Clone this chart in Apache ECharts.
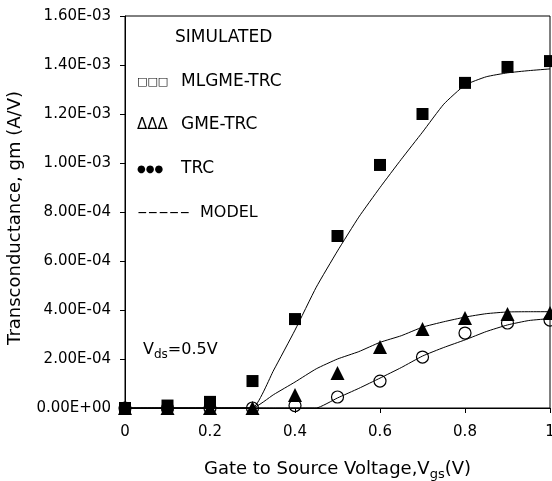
<!DOCTYPE html>
<html>
<head>
<meta charset="utf-8">
<script src="https://cdn.jsdelivr.net/npm/echarts@6/dist/echarts.min.js"></script>
<style>
html,body{margin:0;padding:0;background:#fff;}
#c{width:552px;height:481px;}
</style>
</head>
<body>
<div id="c"></div>
<script>
// Measured points (Vgs in V, gm in A/V)
const vgs = [0, 0.1, 0.2, 0.3, 0.4, 0.5, 0.6, 0.7, 0.8, 0.9, 1.0];
const trc = [0, 1e-5, 2.5e-5, 1.1e-4, 3.63e-4, 7.02e-4, 9.92e-4, 1.2e-3, 1.327e-3, 1.392e-3, 1.416e-3];
const gmeTrc = [0, 0, 0, 0, 5.3e-5, 1.43e-4, 2.49e-4, 3.22e-4, 3.67e-4, 3.84e-4, 3.88e-4];
const mlgmeTrc = [0, 0, 0, 0, 1e-5, 4.5e-5, 1.1e-4, 2.08e-4, 3.06e-4, 3.47e-4, 3.59e-4];

// Model curves
const vgsModel = [0, 0.1, 0.2, 0.3, 0.35, 0.4, 0.45, 0.5, 0.55, 0.6, 0.65, 0.7, 0.75, 0.8, 0.85, 0.9, 0.95, 1.0];
const modelTrc = [0, 0, 0, 0, 1.55e-4, 3.18e-4, 4.93e-4, 6.41e-4, 7.79e-4, 9.0e-4, 1.015e-3, 1.126e-3, 1.24e-3, 1.318e-3, 1.352e-3, 1.368e-3, 1.377e-3, 1.384e-3];
const modelGme = [0, 0, 0, 0, 5.5e-5, 1.06e-4, 1.6e-4, 2.0e-4, 2.3e-4, 2.68e-4, 2.95e-4, 3.3e-4, 3.52e-4, 3.71e-4, 3.85e-4, 3.92e-4, 3.93e-4, 3.93e-4];
const modelMlgme = [0, 0, 0, 0, 0, 0, 0, 4.1e-5, 8e-5, 1.22e-4, 1.65e-4, 2.12e-4, 2.47e-4, 2.78e-4, 3.12e-4, 3.39e-4, 3.57e-4, 3.65e-4];

// Axis ticks
const xTicks = [0, 0.2, 0.4, 0.6, 0.8, 1.0];
const yTicks = [0, 2e-4, 4e-4, 6e-4, 8e-4, 1e-3, 1.2e-3, 1.4e-3, 1.6e-3];

// Texts
const legendTitle = 'SIMULATED';
const legendItems = [
  ['\u25A1\u25A1\u25A1', 'MLGME-TRC'],
  ['\u0394\u0394\u0394', 'GME-TRC'],
  ['\u25CF\u25CF\u25CF', 'TRC'],
  ['-----', 'MODEL']
];
const yTitle = 'Transconductance, gm (A/V)';

const FONT = 'DejaVu Sans';
const pairs = (xs, ys) => xs.map((x, i) => [x, ys[i]]);
function sci(v) {
  const s = Number(v).toExponential(2);
  const m = s.split('e');
  let e = parseInt(m[1], 10);
  const sign = e < 0 ? '-' : '+';
  e = Math.abs(e);
  return m[0] + 'E' + sign + (e < 10 ? '0' + e : '' + e);
}

const chart = echarts.init(document.getElementById('c'), null, {renderer: 'canvas'});

const modelSeries = [modelTrc, modelGme, modelMlgme].map(d => ({
  type: 'line', data: pairs(vgsModel, d), showSymbol: false, smooth: 0.15,
  lineStyle: {color: '#000', width: 1}, silent: true, z: 2, clip: false
}));

function txt(x, y, text, size, opts) {
  return Object.assign({
    type: 'text', x: x, y: y,
    style: {text: text, fontFamily: FONT, fontSize: size, fill: '#000', textAlign: 'left', textVerticalAlign: 'middle'}
  }, opts || {});
}

const ly = [82, 125, 169, 213];
const symSizes = [11, 15, 10, 14];
const graphics = [];
graphics.push(txt(175, 38, legendTitle, 17));
legendItems.forEach((it, i) => {
  if (i === 3) {
    graphics.push(txt(137, ly[i], it[0], symSizes[i], {scaleX: 2.1}));
    graphics.push(txt(200, ly[i], it[1], 16));
  } else {
    graphics.push(txt(137, ly[i], it[0], symSizes[i]));
    graphics.push(txt(181, ly[i], it[1], 17));
  }
});
graphics.push({
  type: 'text', x: 143, y: 350,
  style: {
    text: '{n|V}{s|ds}{n|=0.5V}', textVerticalAlign: 'middle',
    rich: {
      n: {fontFamily: FONT, fontSize: 16, fill: '#000'},
      s: {fontFamily: FONT, fontSize: 12, fill: '#000', padding: [9, 0, 0, 0]}
    }
  }
});
graphics.push({
  type: 'text', x: 15, y: 218, rotation: Math.PI / 2,
  style: {text: yTitle, fontFamily: FONT, fontSize: 18, fill: '#000', textAlign: 'center', textVerticalAlign: 'middle'}
});

chart.setOption({
  animation: false,
  backgroundColor: '#fff',
  textStyle: {fontFamily: FONT},
  grid: {left: 125, right: 2, top: 16, bottom: 73, show: true, borderColor: '#000', borderWidth: 1,
    containLabel: false, outerBoundsMode: 'none'},
  xAxis: {
    type: 'value', min: 0, max: 1, interval: 0.2,
    axisLine: {lineStyle: {color: '#000', width: 1}},
    axisTick: {show: true, length: 5, lineStyle: {color: '#000'}, customValues: xTicks},
    axisLabel: {color: '#000', fontSize: 15, fontFamily: FONT, margin: 17, customValues: xTicks,
      hideOverlap: false, formatter: v => (Math.round(v * 10) / 10).toString()},
    splitLine: {show: false},
    name: '{n|Gate to Source Voltage,V}{s|gs}{n|(V)}',
    nameLocation: 'middle', nameGap: 50,
    nameTextStyle: {rich: {
      n: {fontFamily: FONT, fontSize: 18, color: '#000'},
      s: {fontFamily: FONT, fontSize: 13, color: '#000', padding: [10, 0, 0, 0]}
    }}
  },
  yAxis: {
    type: 'value', min: 0, max: 1.6e-3, interval: 2e-4,
    axisLine: {show: true, lineStyle: {color: '#000', width: 1}},
    axisTick: {show: true, length: 5, lineStyle: {color: '#000'}, customValues: yTicks},
    axisLabel: {color: '#000', fontSize: 15, fontFamily: FONT, margin: 14, customValues: yTicks,
      hideOverlap: false, formatter: v => sci(v)},
    splitLine: {show: false}
  },
  graphic: graphics,
  series: modelSeries.concat([
    {type: 'scatter', data: pairs(vgs, trc), symbol: 'rect', symbolSize: 12,
      itemStyle: {color: '#000', opacity: 1}, z: 4, clip: false, silent: true},
    {type: 'scatter', data: pairs(vgs, gmeTrc), symbol: 'triangle', symbolSize: 14,
      itemStyle: {color: '#000', opacity: 1}, z: 4, clip: false, silent: true},
    {type: 'scatter', data: pairs(vgs, mlgmeTrc), symbol: 'circle', symbolSize: 12,
      itemStyle: {color: 'rgba(0,0,0,0)', borderColor: '#000', borderWidth: 1.2, opacity: 1}, z: 4, clip: false, silent: true}
  ])
});
</script>
</body>
</html>
